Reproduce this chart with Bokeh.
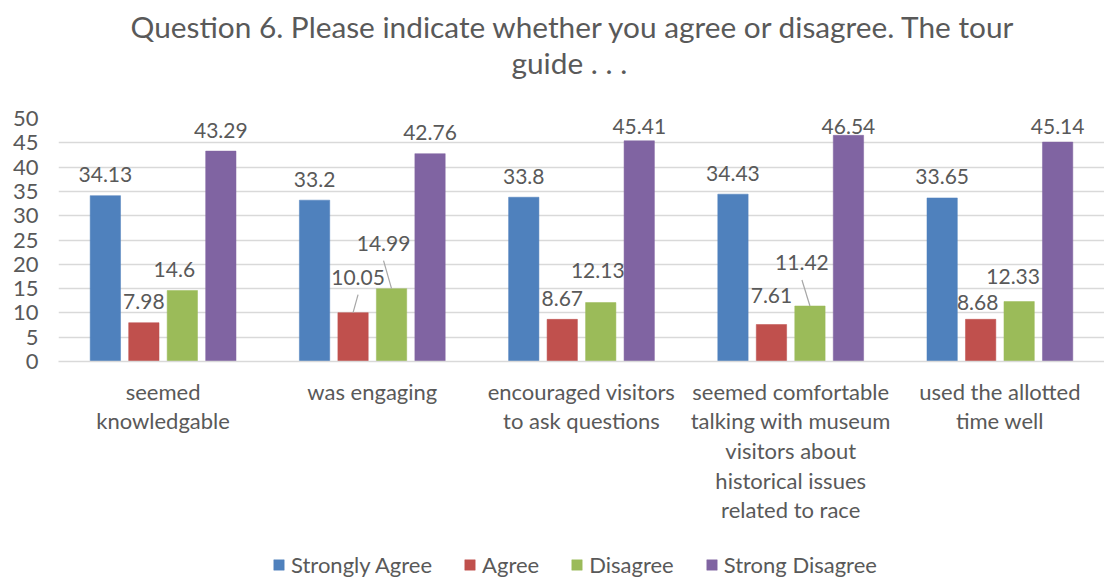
from bokeh.plotting import figure
from bokeh.layouts import column
from bokeh.models import FactorRange, Range1d, Legend, LegendItem, ColumnDataSource, Title, LabelSet
from bokeh.transform import dodge
from bokeh.core.properties import value
from bokeh.embed import file_html
from bokeh.resources import INLINE

# ---------------- data ----------------
categories = [
    "seemed\nknowledgable",
    "was engaging",
    "encouraged visitors\nto ask questions",
    "seemed comfortable\ntalking with museum\nvisitors about\nhistorical issues\nrelated to race",
    "used the allotted\ntime well",
]
series_names = ["Strongly Agree", "Agree", "Disagree", "Strong Disagree"]
strongly_agree = [34.13, 33.2, 33.8, 34.43, 33.65]
agree = [7.98, 10.05, 8.67, 7.61, 8.68]
disagree = [14.6, 14.99, 12.13, 11.42, 12.33]
strong_disagree = [43.29, 42.76, 45.41, 46.54, 45.14]
y_ticks = [0, 5, 10, 15, 20, 25, 30, 35, 40, 45, 50]
title_line1 = "Question 6. Please indicate whether you agree or disagree. The tour"
title_line2 = "guide . . ."

# ---------------- style ----------------
colors = ["#4F81BD", "#C0504D", "#9BBB59", "#8064A2"]
offsets = [-0.276, -0.092, 0.092, 0.276]
bar_w = 0.145
FONT = "Lato"
TXT = "#595959"
W = 1104
MAIN_H, LEG_H = 550, 30
BORDER_L, BORDER_T, BORDER_B = 58, 118, 189
FRAME_W = W - BORDER_L
FRAME_H = MAIN_H - BORDER_T - BORDER_B
Y_MAX = 50
# label nudges (px: dx, dy of label centre, leader line?)
label_nudges = {
    (1, 1): (5, -35, True),
    (1, 2): (-8, -45, True),
    (3, 2): (-8, -43, True),
    (0, 2): (-8, -21, False),
    (4, 2): (-6, -25, False),
    (2, 2): (-3, -32, False),
    (3, 1): (0, -29, False),
    (4, 1): (-3, -17, False),
}
DEFAULT_DY = -21
TOP_MIN = 8  # label centre no higher than this many px below frame top

p = figure(
    x_range=FactorRange(*categories, range_padding=0),
    y_range=Range1d(0, Y_MAX),
    width=W, height=MAIN_H,
    output_backend="svg", toolbar_location=None,
    min_border_left=BORDER_L, min_border_right=0,
    min_border_top=BORDER_T, min_border_bottom=BORDER_B,
)
p.outline_line_color = None
p.background_fill_color = "white"
p.border_fill_color = "white"
p.title.visible = False

# title panels stack outward from the frame: blank spacer, line 2, line 1
spacer = Title(text=" ", text_font=FONT, text_font_size="20px", standoff=13)
t2 = Title(text=title_line2, align="left", offset=453, text_font=FONT, text_font_size="29.8px",
           text_font_style="normal", text_color=TXT, standoff=0)
t1 = Title(text=title_line1, align="left", offset=72, text_font=FONT, text_font_size="29.8px",
           text_font_style="normal", text_color=TXT, standoff=-3)
p.add_layout(spacer, "above")
p.add_layout(t2, "above")
p.add_layout(t1, "above")

series_vals = [strongly_agree, agree, disagree, strong_disagree]
px_x = FRAME_W / len(categories)
px_y = FRAME_H / Y_MAX

for si, (name, vals) in enumerate(zip(series_names, series_vals)):
    src = ColumnDataSource(dict(cat=categories, v=vals))
    p.vbar(x=dodge("cat", offsets[si], range=p.x_range), top="v", width=bar_w,
           source=src, fill_color=colors[si], line_color=colors[si], line_alpha=0.5)
    # labels
    xo, yo = [], []
    for ci, v in enumerate(vals):
        dx, dy, _ = label_nudges.get((ci, si), (0, DEFAULT_DY, False))
        bar_top_px = FRAME_H * (1 - v / Y_MAX)
        if bar_top_px + dy < TOP_MIN:
            dy = TOP_MIN - bar_top_px
        xo.append(dx)
        yo.append(-dy)
    lsrc = ColumnDataSource(dict(cat=categories, v=vals, lab=[str(v) for v in vals], xo=xo, yo=yo))
    p.add_layout(LabelSet(x=dodge("cat", offsets[si], range=p.x_range), y="v", text="lab", source=lsrc,
                          x_offset="xo", y_offset="yo", text_align="center", text_baseline="middle",
                          text_font=value(FONT), text_font_size=value("21px"), text_color=value(TXT)))
    # leader lines
    for ci, v in enumerate(vals):
        nd = label_nudges.get((ci, si))
        if nd and nd[2]:
            dx, dy, _ = nd
            p.segment(x0=dodge("c", offsets[si], range=p.x_range),
                      x1=dodge("c", offsets[si] + dx / px_x, range=p.x_range),
                      y0="y0", y1="y1",
                      source=ColumnDataSource(dict(c=[categories[ci]], y0=[v], y1=[v - (dy + 17) / px_y])),
                      line_color="#A6A6A6", line_width=1.2)

# axes
p.yaxis.ticker = y_ticks
p.yaxis.axis_line_color = None
p.yaxis.major_tick_line_color = None
p.yaxis.major_tick_out = 0
p.yaxis.major_tick_in = 0
p.yaxis.minor_tick_line_color = None
p.yaxis.major_label_text_font = FONT
p.yaxis.major_label_text_font_size = "22px"
p.yaxis.major_label_text_color = TXT
p.yaxis.major_label_standoff = 20

p.xaxis.axis_line_color = "#D9D9D9"
p.xaxis.axis_line_width = 1.5
p.xaxis.major_tick_line_color = None
p.xaxis.major_tick_out = 0
p.xaxis.major_tick_in = 0
p.xaxis.minor_tick_line_color = None
p.xaxis.major_label_text_font = FONT
p.xaxis.major_label_text_font_size = "22px"
p.xaxis.major_label_text_color = TXT
p.xaxis.major_label_text_line_height = 1.1
p.xaxis.major_label_standoff = 16

p.xgrid.grid_line_color = None
p.ygrid.grid_line_color = "#D9D9D9"
p.ygrid.grid_line_width = 1.5

# ---------------- legend strip (separate figure below the chart) ----------------
pl = figure(width=W, height=LEG_H, x_range=Range1d(0, 1), y_range=Range1d(0, 1),
            x_axis_type=None, y_axis_type=None, output_backend="svg", toolbar_location=None,
            min_border=0, min_border_left=0, min_border_right=0, min_border_top=0, min_border_bottom=0)
pl.outline_line_color = None
pl.grid.visible = False
leg_renderers = []
for si, name in enumerate(series_names):
    # placeholder bar outside the strip's visible range: only its legend swatch shows
    leg_renderers.append(pl.vbar(x=[-5], top=[0], width=bar_w, fill_color=colors[si],
                                 line_color=colors[si], line_alpha=0.5))
legend = Legend(
    items=[LegendItem(label=n, renderers=[r]) for n, r in zip(series_names, leg_renderers)],
    orientation="horizontal", location=(214, 2),
    label_text_font=FONT, label_text_font_size="22px", label_text_color=TXT,
    glyph_width=13, glyph_height=13, label_standoff=6, spacing=31,
    border_line_color=None, background_fill_alpha=0, padding=0, margin=0,
)
pl.add_layout(legend, "center")

layout = column(p, pl, spacing=0)
open("out.html", "w").write(file_html(layout, INLINE))
